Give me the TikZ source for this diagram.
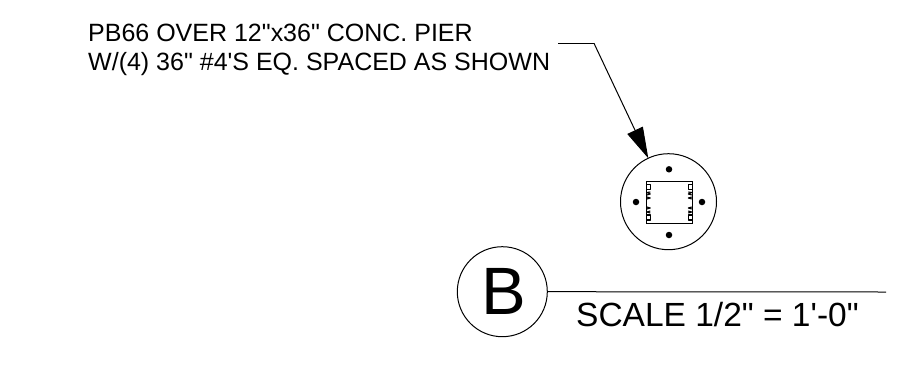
\documentclass[tikz,border=0pt]{standalone}
\usepackage{fontspec}
\newfontfamily\plainsans{Liberation Sans}
\usetikzlibrary{arrows.meta}
\tikzset{
  x=1pt,y=-1pt,
  thinline/.style={draw=black,line width=1pt},
  leadertext/.style={anchor=base west,inner sep=0pt,font=\plainsans\fontsize{25}{30}\selectfont},
  dotmark/.style={circle,fill=black,inner sep=0pt,minimum size=6.5pt},
  rebar/.style={draw=black,line width=1.1pt,line join=round},
  tagcircle/.style={circle,draw=black,line width=1pt,inner sep=0pt,minimum size=90pt,font=\plainsans\fontsize{67}{70}\selectfont},
  scaletext/.style={anchor=base west,inner sep=0pt,font=\plainsans\fontsize{33.5}{38}\selectfont},
}
\begin{document}
\begin{tikzpicture}
\useasboundingbox (0,0) rectangle (898,368);
\node[leadertext] (t1) at (88,41) {PB66 OVER 12"x36" CONC. PIER};
\node[leadertext] (t2) at (88,70) {W/(4) 36" \#4'S EQ. SPACED AS SHOWN};
\node[circle,draw=black,line width=1pt,inner sep=0pt,minimum size=96pt] (pier) at (668.5,201.7) {};
\node[draw=black,line width=1.2pt,inner sep=0pt,minimum width=46pt,minimum height=42pt] (col) at (669.3,202.3) {};
\foreach \sx/\ax in {1/646.3,-1/692.3}{
  \begin{scope}[shift={(\ax,0)},xscale=\sx,rebar]
    \draw (0,184.5) rectangle (4,189.5);
    \draw (4,192) -- (0.5,192.5) -- (4,194) -- (0.5,195);
    \draw (0.5,197) -- (4,198) -- (0.5,199);
    \draw (0.5,207) -- (4,208) -- (0.5,209);
    \draw (4,211) -- (0.5,212) -- (4,213);
    \draw (0,215) rectangle (4,220);
  \end{scope}
}
\node[dotmark] (d1) at (669,169.3) {};
\node[dotmark] (d2) at (669,235) {};
\node[dotmark] (d3) at (636,202) {};
\node[dotmark] (d4) at (702,202) {};
\coordinate (ls) at (558,43.3);
\coordinate (le) at (594,43.3);
\draw[thinline] (ls) -- (le);
\draw[thinline,-{Triangle[length=31pt,width=17pt]}] (le) -- (648.3,158.3);
\node[tagcircle] (tag) at (502.3,291.7) {\hspace{3pt}B};
\coordinate (re) at (886,292);
\draw[thinline] (tag.east) -- (re);
\node[scaletext] (sc) at (576,326) {SCALE 1/2" = 1'-0"};
\end{tikzpicture}
\end{document}
